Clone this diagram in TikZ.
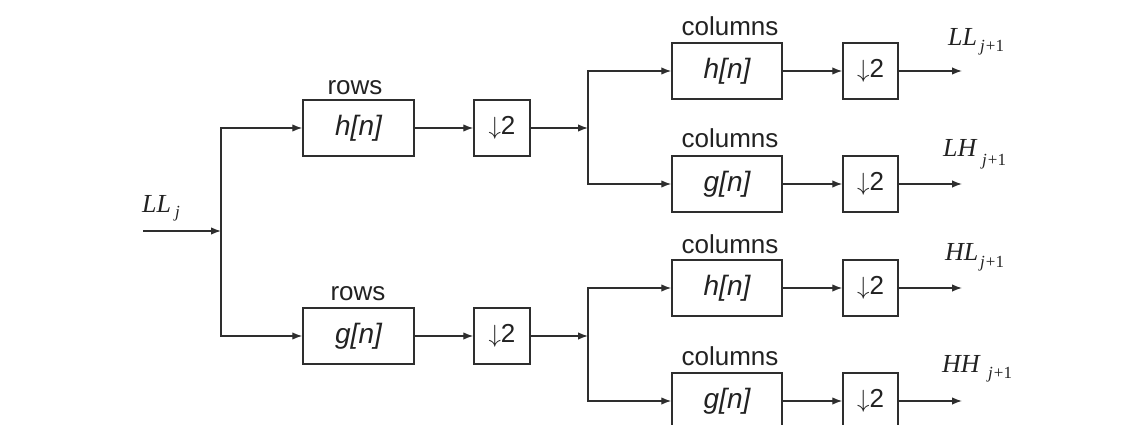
\documentclass[tikz,border=0pt]{standalone}
\usepackage{fontspec}
\setmainfont{Liberation Serif}
\setsansfont{Liberation Sans}
\usetikzlibrary{arrows.meta}
\definecolor{ln}{HTML}{2E2E2E}
\definecolor{tx}{HTML}{222222}
\begin{document}
\begin{tikzpicture}[x=1pt,y=-1pt,
 box/.style={draw=ln,line width=1.5pt,minimum height=56pt,inner sep=0pt,text=tx,font=\sffamily\fontsize{28}{30}\selectfont\itshape},
 filt/.style={box,minimum width=111pt},
 down/.style={box,minimum width=56pt,font=\sffamily\fontsize{26}{28}\selectfont},
 conn/.style={draw=ln,line width=1.4pt},
 arr/.style={conn,-{Latex[length=10pt,width=7.5pt]}},
 lab/.style={font=\sffamily\fontsize{26}{28}\selectfont,anchor=base,inner sep=0pt,text=tx},
 sig/.style={font=\fontsize{26}{30}\selectfont\itshape,anchor=base west,inner sep=0pt,text=tx},
 sub/.style={font=\fontsize{17}{19}\selectfont,anchor=base west,inner sep=0pt,text=tx}]
\useasboundingbox (0,0) rectangle (1138,425);
\clip (0,0) rectangle (1138,425);
\fill[white] (0,0) rectangle (1138,425);
% first stage
\coordinate (in) at (143,231);
\coordinate (j1) at (221,231);
\node[filt] (rh) at (358.5,128) {h[n]};
\node[down] (rd) at (502,128) {$\downarrow$2};
\node[filt] (rg) at (358.5,336) {g[n]};
\node[down] (rd2) at (502,336) {$\downarrow$2};
\node[lab] (lr1) at (355,95) {rows};
\node[lab] (lr2) at (358,300) {rows};
% second stage
\coordinate (j2) at (588,128);
\coordinate (j3) at (588,336);
\node[filt,minimum width=110pt] (c1) at (727,71) {h[n]};
\node[down,minimum width=55pt] (d1) at (870.5,71) {$\downarrow$2};
\node[filt,minimum width=110pt] (c2) at (727,184) {g[n]};
\node[down,minimum width=55pt] (d2) at (870.5,184) {$\downarrow$2};
\node[filt,minimum width=110pt] (c3) at (727,288) {h[n]};
\node[down,minimum width=55pt] (d3) at (870.5,288) {$\downarrow$2};
\node[filt,minimum width=110pt] (c4) at (727,401) {g[n]};
\node[down,minimum width=55pt] (d4) at (870.5,401) {$\downarrow$2};
\node[lab] (lc1) at (730,36) {columns};
\node[lab] (lc2) at (730,148) {columns};
\node[lab] (lc3) at (730,253) {columns};
\node[lab] (lc4) at (730,365) {columns};
\coordinate (o1) at (962,71);
\coordinate (o2) at (962,184);
\coordinate (o3) at (962,288);
\coordinate (o4) at (962,401);
% connectors
\draw[arr] (in) -- (j1);
\draw[arr] (j1) |- (rh);
\draw[arr] (j1) |- (rg);
\draw[arr] (rh) -- (rd);
\draw[arr] (rg) -- (rd2);
\draw[arr] (rd) -- (j2);
\draw[arr] (rd2.east) -- (j3);
\draw[arr] (j2) |- (c1);
\draw[arr] (j2) |- (c2);
\draw[arr] (j3) |- (c3);
\draw[arr] (j3) |- (c4);
\draw[arr] (c1) -- (d1);
\draw[arr] (c2) -- (d2);
\draw[arr] (c3) -- (d3);
\draw[arr] (c4) -- (d4);
\draw[arr] (d1) -- (o1);
\draw[arr] (d2) -- (o2);
\draw[arr] (d3) -- (o3);
\draw[arr] (d4) -- (o4);
% signal labels
\node[sig] (sin) at (142,212) {LL};
\node[sub] (sinj) at (175,217) {\textit{j}};
\node[sig] (s1) at (948,46) {LL};
\node[sub] (s1j) at (980,52) {\textit{j}\kern1pt+1};
\node[sig] (s2) at (943,157) {LH};
\node[sub] (s2j) at (982,165) {\textit{j}\kern1pt+1};
\node[sig] (s3) at (945,260) {HL};
\node[sub] (s3j) at (980,267) {\textit{j}\kern1pt+1};
\node[sig] (s4) at (942,372) {HH};
\node[sub] (s4j) at (988,378) {\textit{j}\kern1pt+1};
\end{tikzpicture}
\end{document}
